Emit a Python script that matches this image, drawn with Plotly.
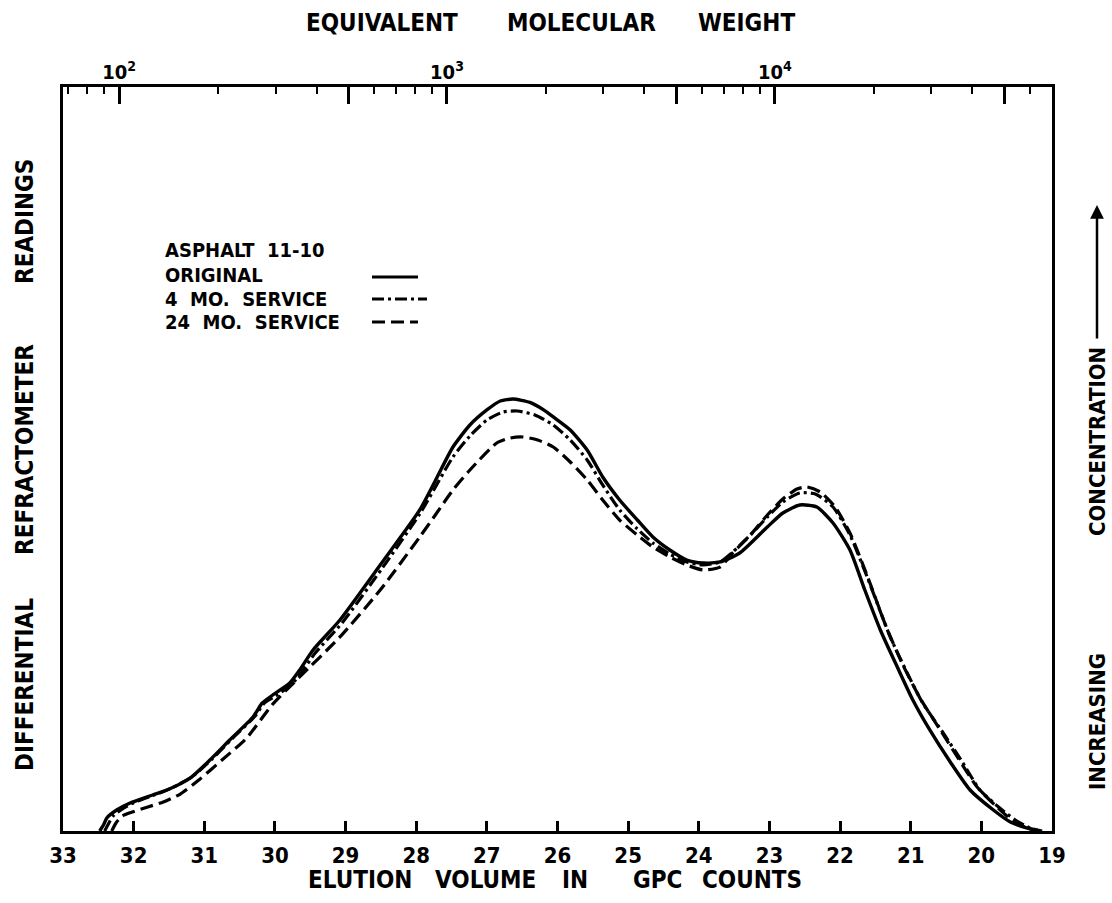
import plotly.graph_objects as go

# ---------------- data ----------------
counts_original = [32.48, 32.42, 32.38, 32.24, 32.05, 31.73, 31.53, 31.20, 30.92, 30.64,
                   30.31, 30.18, 30.03, 29.79, 29.65, 29.46, 29.08, 28.51, 27.95, 27.71,
                   27.48, 27.24, 27.00, 26.81, 26.63, 26.39, 26.18, 26.06, 25.82, 25.58,
                   25.36, 25.12, 24.87, 24.65, 24.41, 24.17, 23.94, 23.70, 23.42, 23.03,
                   22.81, 22.57, 22.33, 22.10, 21.86, 21.65, 21.43, 21.19, 20.97, 20.73,
                   20.44, 20.16, 19.83, 19.59, 19.35, 19.17]
resp_original = [0.0, 0.94, 1.75, 2.82, 3.76, 4.84, 5.51, 7.12, 9.54, 12.23,
                 15.32, 17.20, 18.28, 19.89, 21.64, 24.33, 28.36, 35.75, 43.15, 47.45,
                 51.61, 54.57, 56.59, 57.80, 58.06, 57.60, 56.50, 55.65, 53.90, 51.21,
                 47.58, 44.49, 41.80, 39.52, 37.77, 36.42, 36.02, 36.16, 37.37, 40.86,
                 42.74, 43.82, 43.55, 41.40, 37.77, 32.39, 27.02, 22.04, 17.61, 13.58,
                 9.27, 5.51, 2.82, 1.21, 0.40, 0.0]

counts_4mo = [32.41, 32.35, 32.29, 32.16, 31.98, 31.67, 31.46, 31.16, 30.89, 30.61,
              30.28, 30.15, 29.99, 29.76, 29.62, 29.43, 29.05, 28.48, 27.95, 27.48,
              27.24, 27.00, 26.77, 26.57, 26.32, 26.06, 25.82, 25.58, 25.36, 25.12,
              24.87, 24.65, 24.41, 24.17, 23.94, 23.70, 23.52, 23.27, 23.03, 22.81,
              22.57, 22.35, 22.10, 21.86, 21.60, 21.29, 21.05, 20.83, 20.54, 20.27,
              20.02, 19.74, 19.52, 19.31, 19.14]
resp_4mo = [0.0, 1.08, 2.02, 2.96, 3.90, 4.97, 5.78, 7.39, 9.68, 12.37,
            15.46, 17.20, 18.15, 19.76, 21.37, 23.92, 27.96, 35.35, 42.61, 50.27,
            53.09, 55.24, 56.32, 56.45, 55.91, 54.57, 52.55, 49.87, 46.51, 43.15,
            40.59, 38.71, 37.23, 36.16, 35.75, 36.16, 37.50, 39.78, 42.20, 44.22,
            45.43, 45.30, 43.55, 39.78, 33.74, 26.08, 21.24, 17.20, 13.17, 9.27,
            5.51, 3.09, 1.48, 0.40, 0.0]

counts_24mo = [32.31, 32.25, 32.16, 32.02, 31.80, 31.58, 31.34, 31.06, 30.75, 30.40,
               30.03, 29.65, 29.08, 28.51, 27.95, 27.71, 27.48, 27.24, 26.86, 26.67,
               26.49, 26.28, 26.06, 25.82, 25.58, 25.36, 25.12, 24.87, 24.65, 24.41,
               24.17, 23.94, 23.70, 23.52, 23.27, 23.03, 22.81, 22.61, 22.47, 22.28,
               22.07, 21.86, 21.62, 21.34, 21.11, 20.87, 20.59, 20.33, 20.06, 19.78,
               19.57, 19.35, 19.17]
resp_24mo = [0.0, 1.08, 2.02, 2.55, 3.23, 3.90, 4.97, 6.99, 9.54, 12.50,
             17.07, 20.70, 26.08, 32.39, 39.52, 42.74, 45.83, 48.52, 52.15, 52.82,
             52.96, 52.55, 51.61, 49.60, 47.18, 44.49, 41.80, 39.78, 38.17, 36.83,
             35.75, 35.08, 35.48, 37.37, 39.78, 42.47, 44.62, 45.97, 46.24, 45.56,
             43.55, 40.05, 34.41, 27.28, 22.31, 17.88, 13.71, 9.81, 5.91, 3.23,
             1.48, 0.40, 0.0]

count_ticks = list(range(33, 18, -1))
mw_decades = [100, 1000, 10000]
mw_decade_text = ["10<sup>2</sup>", "10<sup>3</sup>", "10<sup>4</sup>"]
mw_halves = [500, 5000, 50000]
mw_minor = [70, 80, 90, 200, 300, 400, 600, 700, 800, 900,
            2000, 3000, 4000, 6000, 7000, 8000, 9000, 20000, 30000, 40000, 60000]

series_names = ["ORIGINAL", "4 MO. SERVICE", "24 MO. SERVICE"]
legend_title = "ASPHALT  11-10"
legend_rows = ["ORIGINAL", "4  MO.  SERVICE", "24  MO.  SERVICE"]

# ---------------- layout constants ----------------
W, H = 1112, 903
L, R, T, B = 63, 1052, 87, 831
FONT = "DejaVu Sans Condensed, Liberation Sans Narrow, Arial Narrow, sans-serif"
MW_RANGE = [1.829, 4.845]


def px(xp):
    return (xp - L) / (R - L)


def py(yp):
    return (B - yp) / (B - T)


fig = go.Figure()
styles = [dict(dash="solid", width=3.4),
          dict(dash="12px,4px,3px,4px", width=3.2),
          dict(dash="13px,6px", width=3.2)]
for name, xs, ys, st in zip(series_names,
                            [counts_original, counts_4mo, counts_24mo],
                            [resp_original, resp_4mo, resp_24mo], styles):
    fig.add_trace(go.Scatter(x=xs, y=ys, mode="lines", name=name,
                             line=dict(color="black", shape="spline", smoothing=0.6, **st),
                             showlegend=False, hoverinfo="skip"))

# carrier traces for the molecular-weight axes
for ax in ["x2", "x3"]:
    fig.add_trace(go.Scatter(x=[mw_decades[0], mw_decades[-1]], y=[0, 0], xaxis=ax,
                             mode="markers", marker=dict(opacity=0), showlegend=False,
                             hoverinfo="skip"))

lw = 3
fig.update_layout(
    width=W, height=H,
    margin=dict(l=L, r=W - R, t=T, b=H - B, pad=0),
    paper_bgcolor="white", plot_bgcolor="white",
    font=dict(family=FONT, color="black", weight=700),
    xaxis=dict(range=[33, 19], tickmode="array", tickvals=count_ticks,
               ticktext=[str(v) for v in count_ticks],
               ticks="inside", ticklen=10, tickwidth=2.5, tickcolor="black",
               showline=True, linewidth=lw, linecolor="black", mirror=True,
               showgrid=False, zeroline=False,
               tickfont=dict(family=FONT, size=22, weight=700), ticklabelstandoff=3),
    xaxis2=dict(type="log", overlaying="x", side="top", anchor="y",
                range=MW_RANGE, tickmode="array", tickvals=mw_decades,
                ticktext=mw_decade_text, ticks="inside", ticklen=17, tickwidth=2.5,
                tickcolor="black", showline=False, showgrid=False, zeroline=False,
                minor=dict(tickmode="array", tickvals=mw_minor, ticks="inside",
                           ticklen=7, tickwidth=2, tickcolor="black", showgrid=False),
                tickfont=dict(family=FONT, size=20, weight=700), ticklabelstandoff=3),
    xaxis3=dict(type="log", overlaying="x", side="top", anchor="y",
                range=MW_RANGE, tickmode="array", tickvals=mw_halves,
                showticklabels=False, ticks="inside", ticklen=17, tickwidth=2.5,
                tickcolor="black", showline=False, showgrid=False, zeroline=False),
    yaxis=dict(range=[0, 100], showticklabels=False, ticks="",
               showline=True, linewidth=lw, linecolor="black", mirror=True,
               showgrid=False, zeroline=False),
)

ann = []


def text(t, xpix, ypix, size, angle=0, xanchor="center"):
    ann.append(dict(text=t, x=px(xpix), y=py(ypix), xref="paper", yref="paper",
                    showarrow=False, textangle=angle, xanchor=xanchor, yanchor="middle",
                    font=dict(family=FONT, size=size, color="black", weight=700)))


# top title
for w, xc in [("EQUIVALENT", 382), ("MOLECULAR", 581), ("WEIGHT", 746)]:
    text(w, xc, 23, 24)
# bottom title
for w, xc in [("ELUTION", 360), ("VOLUME", 485), ("IN", 575), ("GPC", 657), ("COUNTS", 752)]:
    text(w, xc, 880, 24)
# left title
for w, yc in [("READINGS", 222), ("REFRACTOMETER", 450), ("DIFFERENTIAL", 685)]:
    text(w, 25, yc, 24, angle=-90)
# right label
for w, yc in [("CONCENTRATION", 442), ("INCREASING", 722)]:
    text(w, 1097, yc, 22, angle=-90)
ann.append(dict(x=px(1097), y=py(205), xref="paper", yref="paper", ax=0, ay=135,
                axref="pixel", ayref="pixel", showarrow=True, arrowhead=2, arrowsize=1.1,
                arrowwidth=2.5, arrowcolor="black", text=""))
# legend block
text(legend_title, 163, 250, 20, xanchor="left")
for row, yc in zip(legend_rows, [275, 299, 322]):
    text(row, 163, yc, 20, xanchor="left")
fig.update_layout(annotations=ann)

shapes = []
for st, yc, x1 in zip(styles, [277, 299, 322], [418, 427, 418]):
    shapes.append(dict(type="line", xref="paper", yref="paper", x0=px(372), x1=px(x1),
                       y0=py(yc), y1=py(yc),
                       line=dict(color="black", width=3, dash=st["dash"])))
fig.update_layout(shapes=shapes)

fig.write_html("out.html")
